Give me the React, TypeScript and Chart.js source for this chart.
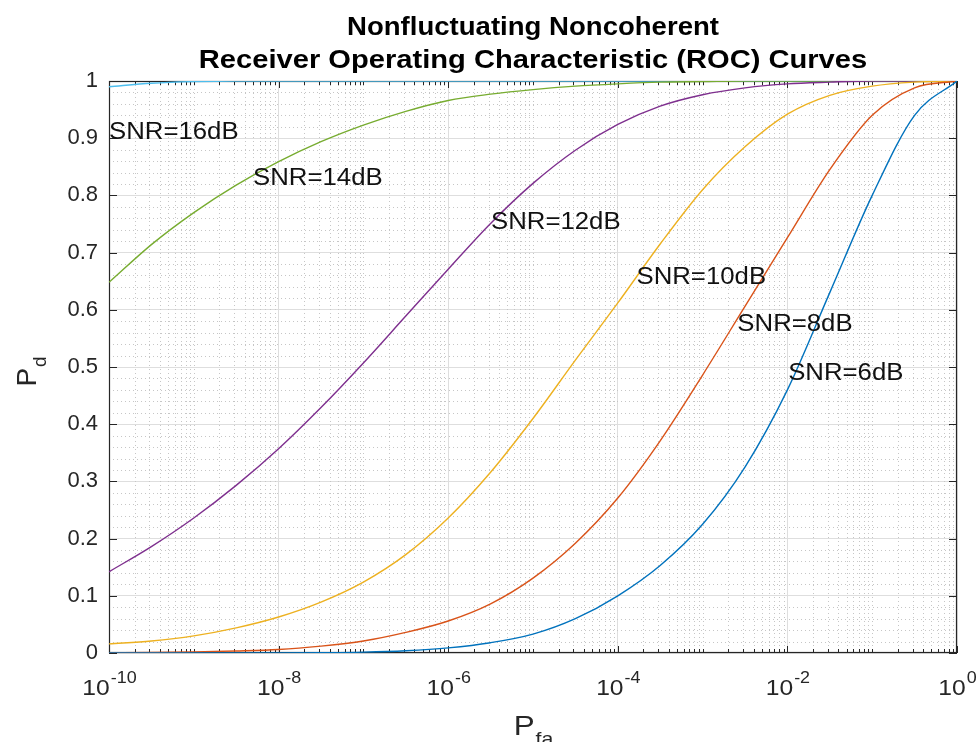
import React, { useEffect, useRef } from "react";
import { Chart, registerables } from "chart.js";

Chart.register(...registerables);

// ---------- text ----------
const TITLE_LINES = ["Nonfluctuating Noncoherent", "Receiver Operating Characteristic (ROC) Curves"];
const X_LABEL_MAIN = "P";
const X_LABEL_SUB = "fa";
const Y_LABEL_MAIN = "P";
const Y_LABEL_SUB = "d";

// ---------- data ----------
const PFA = [
  1e-10, 3.16e-10, 1e-9, 3.16e-9, 1e-8, 3.16e-8, 1e-7, 3.16e-7, 1e-6, 3.16e-6, 1e-5,
  3.16e-5, 1e-4, 3.16e-4, 1e-3, 3.16e-3, 1e-2, 3.16e-2, 0.1, 0.316, 1,
];
const PD_6DB = [0, 0, 0, 0, 0, 0.0005, 0.0015, 0.004, 0.009, 0.018, 0.033, 0.06, 0.1, 0.153, 0.225, 0.325, 0.46, 0.63, 0.8, 0.94, 1];
const PD_8DB = [0.0005, 0.001, 0.002, 0.0035, 0.006, 0.012, 0.021, 0.036, 0.056, 0.086, 0.131, 0.192, 0.271, 0.371, 0.486, 0.606, 0.726, 0.845, 0.94, 0.988, 1];
const PD_10DB = [0.016, 0.021, 0.03, 0.044, 0.063, 0.089, 0.124, 0.172, 0.236, 0.316, 0.41, 0.512, 0.612, 0.715, 0.81, 0.885, 0.942, 0.975, 0.991, 0.998, 1];
const PD_12DB = [0.142, 0.186, 0.236, 0.293, 0.357, 0.429, 0.507, 0.589, 0.671, 0.751, 0.821, 0.879, 0.924, 0.956, 0.976, 0.988, 0.995, 0.998, 1, 1, 1];
const PD_14DB = [0.648, 0.714, 0.77, 0.818, 0.859, 0.894, 0.923, 0.947, 0.966, 0.977, 0.985, 0.991, 0.995, 0.998, 0.999, 1, 1, 1, 1, 1, 1];
const PD_16DB = [0.99, 0.996, 0.999, 1, 1, 1, 1, 1, 1, 1, 1, 1, 1, 1, 1, 1, 1, 1, 1, 1, 1];

const SERIES_NAMES = ["SNR=6dB", "SNR=8dB", "SNR=10dB", "SNR=12dB", "SNR=14dB", "SNR=16dB"];
const SERIES_VALUES = [PD_6DB, PD_8DB, PD_10DB, PD_12DB, PD_14DB, PD_16DB];
const SERIES_COLORS = ["#0072BD", "#D95319", "#EDB120", "#7E2F8E", "#77AC30", "#4DBEEE"];

// label anchor (left edge, vertical middle) in data coordinates
const LABEL_X = [1.02e-2, 2.57e-3, 1.66e-4, 3.2e-6, 5.0e-9, 1e-10];
const LABEL_Y = [0.491, 0.577, 0.659, 0.755, 0.833, 0.913];

// ---------- axes ----------
const X_MIN = 1e-10;
const X_MAX = 1;
const X_MAJOR_TICKS = [1e-10, 1e-8, 1e-6, 1e-4, 1e-2, 1];
const X_TICK_EXPONENTS = ["-10", "-8", "-6", "-4", "-2", "0"];
const X_DECADE_EXPONENTS = [-10, -9, -8, -7, -6, -5, -4, -3, -2, -1];
const Y_TICKS = [0, 0.1, 0.2, 0.3, 0.4, 0.5, 0.6, 0.7, 0.8, 0.9, 1];
const Y_MINOR_STEP = 0.02;

const FONT = '"Liberation Sans", Arial, Helvetica, sans-serif';
const SX = 1.12; // horizontal stretch of the reference's text

function drawText(
  ctx: CanvasRenderingContext2D,
  text: string,
  x: number,
  y: number,
  font: string,
  align: "left" | "center",
  color: string,
  sx = SX
): number {
  ctx.save();
  ctx.font = font;
  ctx.fillStyle = color;
  ctx.textBaseline = "alphabetic";
  ctx.textAlign = "left";
  const w = ctx.measureText(text).width * sx;
  const x0 = align === "center" ? x - w / 2 : x;
  ctx.translate(x0, y);
  ctx.scale(sx, 1);
  ctx.fillText(text, 0, 0);
  ctx.restore();
  return w;
}

function measure(ctx: CanvasRenderingContext2D, text: string, font: string, sx = SX) {
  ctx.save();
  ctx.font = font;
  const w = ctx.measureText(text).width * sx;
  ctx.restore();
  return w;
}

const axesDecor = {
  id: "axesDecor",
  beforeDatasetsDraw(chart: any) {
    const ctx: CanvasRenderingContext2D = chart.ctx;
    const { left, right, top, bottom } = chart.chartArea;
    const xs = chart.scales.x;
    const ys = chart.scales.y;
    ctx.save();
    // minor dotted grid
    ctx.strokeStyle = "#c6c6c6";
    ctx.lineWidth = 1;
    ctx.setLineDash([1, 3]);
    const minorX: number[] = [];
    for (const e of X_DECADE_EXPONENTS) {
      for (let k = 1; k <= 9; k++) {
        const v = k * Math.pow(10, e);
        if (k === 1 && X_MAJOR_TICKS.some((m) => Math.abs(Math.log10(m) - e) < 1e-9)) continue;
        minorX.push(v);
      }
    }
    ctx.beginPath();
    for (const v of minorX) {
      const px = Math.round(xs.getPixelForValue(v)) + 0.5;
      ctx.moveTo(px, top);
      ctx.lineTo(px, bottom);
    }
    const nMinorY = Math.round(1 / Y_MINOR_STEP);
    for (let i = 1; i < nMinorY; i++) {
      if (i % 5 === 0) continue;
      const py = Math.round(ys.getPixelForValue(i * Y_MINOR_STEP)) + 0.5;
      ctx.moveTo(left, py);
      ctx.lineTo(right, py);
    }
    ctx.stroke();
    ctx.setLineDash([]);

    // box
    ctx.strokeStyle = "#262626";
    ctx.lineWidth = 1.2;
    ctx.strokeRect(left + 0.5, top + 0.5, right - left - 1, bottom - top - 1);

    // inward ticks
    ctx.lineWidth = 1;
    ctx.beginPath();
    for (const v of Y_TICKS) {
      const py = Math.round(ys.getPixelForValue(v)) + 0.5;
      ctx.moveTo(left, py);
      ctx.lineTo(left + 8, py);
      ctx.moveTo(right, py);
      ctx.lineTo(right - 8, py);
    }
    for (const v of X_MAJOR_TICKS) {
      const px = Math.round(xs.getPixelForValue(v)) + 0.5;
      ctx.moveTo(px, bottom);
      ctx.lineTo(px, bottom - 7);
      ctx.moveTo(px, top);
      ctx.lineTo(px, top + 7);
    }
    for (const v of minorX) {
      const px = Math.round(xs.getPixelForValue(v)) + 0.5;
      ctx.moveTo(px, bottom);
      ctx.lineTo(px, bottom - 4);
      ctx.moveTo(px, top);
      ctx.lineTo(px, top + 4);
    }
    ctx.stroke();
    ctx.restore();
  },
  afterDraw(chart: any) {
    const ctx: CanvasRenderingContext2D = chart.ctx;
    const { left, right, top, bottom } = chart.chartArea;
    const xs = chart.scales.x;
    const ys = chart.scales.y;
    const cx = (left + right) / 2;

    // title
    const titleFont = `bold 26px ${FONT}`;
    drawText(ctx, TITLE_LINES[0], cx, 35, titleFont, "center", "#000", 1.06);
    drawText(ctx, TITLE_LINES[1], cx, 68, titleFont, "center", "#000");

    // x tick labels with superscripts
    const baseFont = `22px ${FONT}`;
    const supFont = `16px ${FONT}`;
    X_MAJOR_TICKS.forEach((v, i) => {
      const px = xs.getPixelForValue(v);
      const w1 = measure(ctx, "10", baseFont);
      const w2 = measure(ctx, X_TICK_EXPONENTS[i], supFont);
      const x0 = px - (w1 + w2) / 2;
      drawText(ctx, "10", x0, bottom + 42, baseFont, "left", "#262626");
      drawText(ctx, X_TICK_EXPONENTS[i], x0 + w1 + 1, bottom + 30, supFont, "left", "#262626");
    });

    // x axis title P_fa
    const pFont = `28px ${FONT}`;
    const subFont = `19px ${FONT}`;
    {
      const w1 = measure(ctx, X_LABEL_MAIN, pFont);
      const w2 = measure(ctx, X_LABEL_SUB, subFont);
      const x0 = cx - (w1 + w2) / 2;
      drawText(ctx, X_LABEL_MAIN, x0, bottom + 82, pFont, "left", "#262626");
      drawText(ctx, X_LABEL_SUB, x0 + w1 + 1, bottom + 92, subFont, "left", "#262626");
    }

    // y axis title P_d (rotated)
    {
      const w1 = measure(ctx, Y_LABEL_MAIN, pFont, 1);
      const w2 = measure(ctx, Y_LABEL_SUB, subFont, 1);
      const cy = (top + bottom) / 2 + 5;
      ctx.save();
      ctx.translate(36, cy);
      ctx.rotate(-Math.PI / 2);
      const x0 = -(w1 + w2) / 2;
      drawText(ctx, Y_LABEL_MAIN, x0, 0, pFont, "left", "#262626", 1);
      drawText(ctx, Y_LABEL_SUB, x0 + w1 + 1, 10, subFont, "left", "#262626", 1);
      ctx.restore();
    }

    // curve labels
    const labFont = `23px ${FONT}`;
    SERIES_NAMES.forEach((name, i) => {
      const px = xs.getPixelForValue(LABEL_X[i]);
      const py = ys.getPixelForValue(LABEL_Y[i]);
      drawText(ctx, name, px, py + 8.3, labFont, "left", "#111");
    });
  },
};

export default function App() {
  const canvasRef = useRef<HTMLCanvasElement | null>(null);

  useEffect(() => {
    const canvas = canvasRef.current;
    if (!canvas) return;
    const chart = new Chart(canvas, {
      type: "line",
      data: {
        datasets: SERIES_VALUES.map((vals, i) => ({
          label: SERIES_NAMES[i],
          data: PFA.map((x, j) => ({ x, y: vals[j] })),
          borderColor: SERIES_COLORS[i],
          backgroundColor: SERIES_COLORS[i],
          borderWidth: 1.4,
          pointRadius: 0,
          cubicInterpolationMode: "monotone" as const,
          fill: false,
        })),
      },
      options: {
        responsive: false,
        animation: false,
        devicePixelRatio: 1,
        layout: { padding: { left: 0, right: 23, top: 81, bottom: 0 } },
        plugins: {
          legend: { display: false },
          tooltip: { enabled: false },
          title: { display: false },
        },
        scales: {
          x: {
            type: "logarithmic",
            min: X_MIN,
            max: X_MAX,
            afterBuildTicks: (scale: any) => {
              scale.ticks = X_MAJOR_TICKS.map((v) => ({ value: v, major: true }));
            },
            afterFit: (scale: any) => {
              scale.height = 89;
            },
            ticks: { display: false },
            grid: { color: "#dedede", lineWidth: 1, drawTicks: false },
            border: { display: false },
          },
          y: {
            type: "linear",
            min: 0,
            max: 1,
            afterBuildTicks: (scale: any) => {
              scale.ticks = Y_TICKS.map((v) => ({ value: v }));
            },
            afterFit: (scale: any) => {
              scale.width = 109;
            },
            ticks: {
              padding: 11,
              color: "#262626",
              font: { size: 22, family: FONT },
              callback: (v: any) => String(Math.round(Number(v) * 10) / 10),
            },
            grid: { color: "#dedede", lineWidth: 1, drawTicks: false },
            border: { display: false },
          },
        },
      },
      plugins: [axesDecor],
    });
    return () => chart.destroy();
  }, []);

  return (
    <div
      style={{
        position: "fixed",
        left: 0,
        top: 0,
        width: 980,
        height: 742,
        background: "#ffffff",
      }}
    >
      <canvas ref={canvasRef} width={980} height={742} style={{ width: 980, height: 742, display: "block" }} />
    </div>
  );
}
